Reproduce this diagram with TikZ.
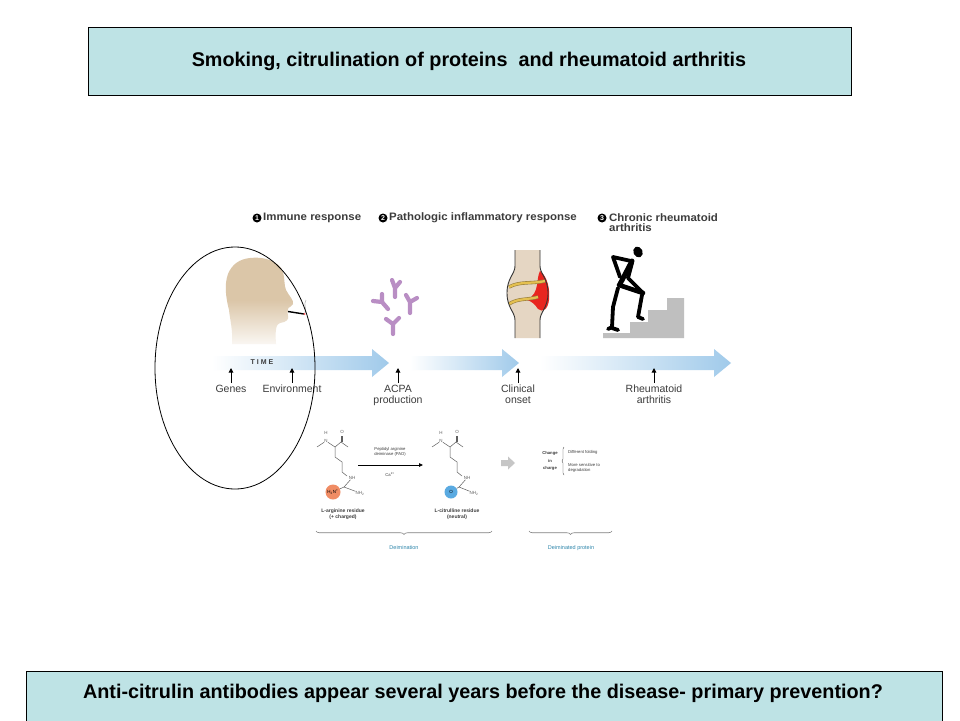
\documentclass[tikz,border=0pt]{standalone}
\usepackage{fontspec}
\setmainfont{Liberation Sans}
\newfontfamily\widefont[FakeStretch=1.06]{Liberation Sans}
\usetikzlibrary{decorations.pathreplacing,arrows.meta,calc}
\definecolor{boxfill}{RGB}{190,227,229}
\definecolor{arrowblue}{RGB}{160,202,234}
\definecolor{skin}{RGB}{219,198,168}
\definecolor{abpurple}{RGB}{185,142,196}
\definecolor{bone}{RGB}{229,214,195}
\definecolor{inflam}{RGB}{232,37,31}
\definecolor{cart}{RGB}{228,192,80}
\definecolor{cartedge}{RGB}{150,125,60}
\definecolor{labgray}{RGB}{60,60,60}
\definecolor{chemgray}{RGB}{95,95,95}
\definecolor{tealtxt}{RGB}{46,134,171}
\definecolor{argorange}{RGB}{240,140,100}
\definecolor{citblue}{RGB}{90,170,225}
\tikzset{
  titlebox/.style={draw=black, line width=0.8pt, fill=boxfill, inner sep=0pt},
  titletext/.style={font=\bfseries\fontsize{19.8}{22}\selectfont},
  headtext/.style={font=\widefont\bfseries\fontsize{10.8}{10}\selectfont, text=labgray, anchor=west, inner sep=0pt, align=left},
  numcirc/.style={circle, fill=black, text=white, inner sep=0pt, minimum size=9pt, font=\bfseries\fontsize{7}{7}\selectfont},
  timelab/.style={font=\fontsize{10.5}{11}\selectfont, text=labgray, align=center, inner sep=0pt, anchor=north},
  uparrow/.style={-{Triangle[length=4.5pt,width=4.5pt]}, line width=1pt, black},
  bond/.style={chemgray, line width=0.5pt},
  chem/.style={font=\fontsize{4.5}{5}\selectfont, text=chemgray, inner sep=0pt},
  chemlab/.style={font=\bfseries\fontsize{5}{6}\selectfont, text=labgray, align=center, inner sep=0pt},
  tiny/.style={font=\fontsize{4.2}{5}\selectfont, text=labgray, inner sep=0pt},
  abody/.style={abpurple, line width=4.2pt, line cap=round, line join=round},
  stick/.style={black, line width=3.8pt, line cap=round, line join=round},
}
\begin{document}
\begin{tikzpicture}[x=1pt,y=-1pt]
\useasboundingbox (0,0) rectangle (960,720);
\fill[white] (0,0) rectangle (960,720);

% title box
\node[titlebox, minimum width=763pt, minimum height=68pt] (title) at (469.5,61) {};
\node[titletext] (titletxt) at (469,61) {Smoking, citrulination of proteins\ \ and rheumatoid arthritis};

% bottom box
\node[titlebox, minimum width=916pt, minimum height=54pt] (bottom) at (484,698) {};
\node[titletext] (bottomtxt) at (483,693) {Anti-citrulin antibodies appear several years before the disease- primary prevention?};

% header labels
\node[numcirc] (n1) at (257,218) {1};
\node[headtext] (h1) at (263,218) {Immune response};
\node[numcirc] (n2) at (383,218) {2};
\node[headtext] (h2) at (389,218) {Pathologic inflammatory response};
\node[numcirc] (n3) at (602,218) {3};
\node[headtext, anchor=north west] (h3) at (609,213.5) {Chronic rheumatoid\\arthritis};

% head silhouette
\shade[top color=skin, bottom color=skin!15, middle color=skin]
  (250,258) .. controls (265,256) and (280,262) .. (283,272)
  .. controls (285,280) and (284,285) .. (286,290)
  .. controls (289,296) and (294,300) .. (293,304)
  .. controls (292,307) and (288,307) .. (288,309)
  .. controls (289,312) and (286,314) .. (288,316)
  .. controls (289,320) and (286,322) .. (280,323)
  .. controls (276,324) and (275,330) .. (276,344)
  -- (232,344)
  .. controls (233,330) and (230,320) .. (229,310)
  .. controls (226,298) and (224,285) .. (228,274)
  .. controls (232,264) and (240,259) .. (250,258) -- cycle;
% cigarette
\draw[black, line width=1.4pt] (288,311.5) -- (304,314);
\draw[gray!60, line width=0.6pt] (305,313) .. controls (307,308) and (303,305) .. (306,300);
\fill[red!60] (304.5,314) circle (1.2pt);

% antibodies
\draw[abody] (392,280) -- (395,288) -- (400,282) (395,288) -- (395,297);
\draw[abody] (373,301) -- (382,302) -- (382,294) (382,302) -- (388,309);
\draw[abody] (406,295) -- (410,302) -- (417,298) (410,302) -- (410,313);
\draw[abody] (386,319) -- (393,324) -- (399,318) (393,324) -- (393,334);

% joint
\fill[bone] (515,250) -- (515,266) .. controls (515,274) and (507,278) .. (507,293)
  .. controls (507,308) and (515,312) .. (515,320) -- (515,338) -- (540,338) -- (540,320)
  .. controls (540,312) and (548,308) .. (548,293) .. controls (548,278) and (540,274) .. (540,266)
  -- (540,250) -- cycle;
\fill[inflam] (540,271) .. controls (548,277) and (550,290) .. (549,300)
  .. controls (548,309) and (543,313) .. (538,309)
  .. controls (535,304) and (531,301) .. (527,300)
  .. controls (534,296) and (536,291) .. (537,285)
  .. controls (538,279) and (538,275) .. (540,271) -- cycle;
\draw[cartedge, line width=3.4pt] (509,287) .. controls (520,281) and (532,284) .. (545,281);
\draw[cart, line width=2.2pt] (509,287) .. controls (520,281) and (532,284) .. (545,281);
\draw[cartedge, line width=3.4pt] (509,304) .. controls (518,298) and (528,300) .. (538,297);
\draw[cart, line width=2.2pt] (509,304) .. controls (518,298) and (528,300) .. (538,297);
\draw[gray!40!black, line width=0.9pt] (515,250) -- (515,266) .. controls (515,274) and (507,278) .. (507,293)
  .. controls (507,308) and (515,312) .. (515,320) -- (515,338);
\draw[gray!40!black, line width=0.9pt] (540,250) -- (540,266) .. controls (540,274) and (548,278) .. (548,293)
  .. controls (548,308) and (540,312) .. (540,320) -- (540,338);

% stairs
\fill[gray!50] (603,338) -- (684,338) -- (684,298) -- (667,298) -- (667,310) -- (648,310)
  -- (648,322) -- (630,322) -- (630,333) -- (603,333) -- cycle;

% stick figure
\fill[black, rotate around={25:(638,252)}] (638,252) ellipse [x radius=4.6pt, y radius=5.6pt];
\draw[stick, line width=5pt] (632,261) -- (620,284);
\draw[stick] (631,261) -- (613,257) -- (620,277);
\draw[stick] (632,263) -- (628,278) -- (643,293);
\draw[stick, line width=4.6pt] (619,285) -- (643,293);
\draw[stick] (642,295) -- (638,317) -- (643,319);
\draw[stick] (618,288) -- (613,307) -- (612,327) -- (608,329) (612,328) -- (618,330);

% time arrows
\shade[left color=white, right color=arrowblue]
  (212,356) -- (372,356) -- (372,349) -- (389,363) -- (372,377) -- (372,370) -- (212,370) -- cycle;
\shade[left color=white, right color=arrowblue]
  (410,356) -- (502,356) -- (502,349) -- (519,363) -- (502,377) -- (502,370) -- (410,370) -- cycle;
\shade[left color=white, right color=arrowblue]
  (540,356) -- (714,356) -- (714,349) -- (731,363) -- (714,377) -- (714,370) -- (540,370) -- cycle;
\node[font=\bfseries\fontsize{7}{7}\selectfont, text=labgray] (time) at (262,362) {T I M E};

% time labels and small arrows
\node[timelab] (genes) at (231,385) {Genes};
\node[timelab] (env) at (292,385) {Environment};
\node[timelab] (acpa) at (398,385) {ACPA\\production};
\node[timelab] (clin) at (518,385) {Clinical\\onset};
\node[timelab] (ra) at (654,385) {Rheumatoid\\arthritis};
\coordinate (genesT) at (231,368);
\coordinate (envT) at (292,368);
\coordinate (acpaT) at (398,368);
\coordinate (clinT) at (518,368);
\coordinate (raT) at (654,368);
\draw[uparrow] (genes.north) ++(0,-2) -- (genesT);
\draw[uparrow] (env.north) ++(0,-2) -- (envT);
\draw[uparrow] (acpa.north) ++(0,-2) -- (acpaT);
\draw[uparrow] (clin.north) ++(0,-2) -- (clinT);
\draw[uparrow] (ra.north) ++(0,-2) -- (raT);

% ellipse
\draw[black, line width=0.8pt] (235,368) ellipse [x radius=80pt, y radius=121pt];

% ---- chemistry: L-arginine ----
\node[chem] (aH) at (326,433) {H};
\node[chem] (aN) at (326,441) {N};
\draw[bond] (317,447) -- (aN);
\draw[bond] (aN) -- (335,447);
\draw[bond] (335,447) -- (341,442) -- (348,447);
\draw[bond] (341,442) -- (341,436);
\draw[bond] (342.2,442) -- (342.2,436);
\node[chem] (aO) at (342,432) {O};
\draw[bond] (335,447) -- (335,457) -- (342,462) -- (342,472) -- (347,476);
\node[chem] (aNH) at (352,478) {NH};
\draw[bond] (aNH) -- (344,487);
\node[circle, fill=argorange, minimum size=15pt, inner sep=0pt] (aplus) at (333,492) {};
\node[chem, text=black] at (333,492) {H\textsubscript{2}N\textsuperscript{+}};
\draw[bond] (344,487) -- (aplus);
\node[chem] (aNH2) at (360,493) {NH\textsubscript{2}};
\draw[bond] (344,487) -- (aNH2);
\node[chemlab] (alab) at (343,514) {L-arginine residue\\(+ charged)};

% reaction arrow
\coordinate (rxA) at (358,465);
\coordinate (rxB) at (423,465);
\draw[-{Triangle[length=4pt,width=3.5pt]}, line width=0.8pt, black] (rxA) -- (rxB);
\node[tiny, align=center] (pad) at (390,452) {Peptidyl arginine\\deiminase (PAD)};
\node[tiny] (ca) at (390,474) {Ca\textsuperscript{2+}};

% ---- L-citrulline ----
\node[chem] (cH) at (441,433) {H};
\node[chem] (cN) at (441,441) {N};
\draw[bond] (432,447) -- (cN);
\draw[bond] (cN) -- (450,447);
\draw[bond] (450,447) -- (456,442) -- (463,447);
\draw[bond] (456,442) -- (456,436);
\draw[bond] (457.2,442) -- (457.2,436);
\node[chem] (cO) at (457,432) {O};
\draw[bond] (450,447) -- (450,457) -- (457,462) -- (457,472) -- (462,476);
\node[chem] (cNH) at (467,478) {NH};
\draw[bond] (cNH) -- (459,487);
\node[circle, fill=citblue, minimum size=13pt, inner sep=0pt] (cox) at (451,492) {};
\node[chem, text=black] at (451,492) {O};
\draw[bond] (459,487) -- (cox);
\node[chem] (cNH2) at (474,493) {NH\textsubscript{2}};
\draw[bond] (459,487) -- (cNH2);
\node[chemlab] (clab) at (457,514) {L-citrulline residue\\(neutral)};

% grey arrow
\fill[gray!45] (501,460) -- (508,460) -- (508,456.5) -- (515,463) -- (508,469.5) -- (508,466) -- (501,466) -- cycle;

% change in charge
\node[tiny, align=center, font=\bfseries\fontsize{4.2}{7.5}\selectfont] (chg) at (550,461) {Change\\in\\charge};
\draw[labgray, line width=0.4pt, decorate, decoration={brace, amplitude=2pt}] (564,475) -- (564,447);
\node[tiny, anchor=west] (fold) at (568,452) {Different folding};
\node[tiny, anchor=west, align=left] (deg) at (568,467.5) {More sensitive to\\degradation};

% bottom braces
\draw[gray, line width=0.6pt, decorate, decoration={brace, mirror, amplitude=3.5pt}] (316,531) -- (492,531);
\node[font=\fontsize{5.5}{6}\selectfont, text=tealtxt] (deim) at (404,548) {Deimination};
\draw[gray, line width=0.6pt, decorate, decoration={brace, mirror, amplitude=3.5pt}] (529,531) -- (612,531);
\node[font=\fontsize{5.5}{6}\selectfont, text=tealtxt] (deimp) at (571,548) {Deiminated protein};
\end{tikzpicture}
\end{document}
